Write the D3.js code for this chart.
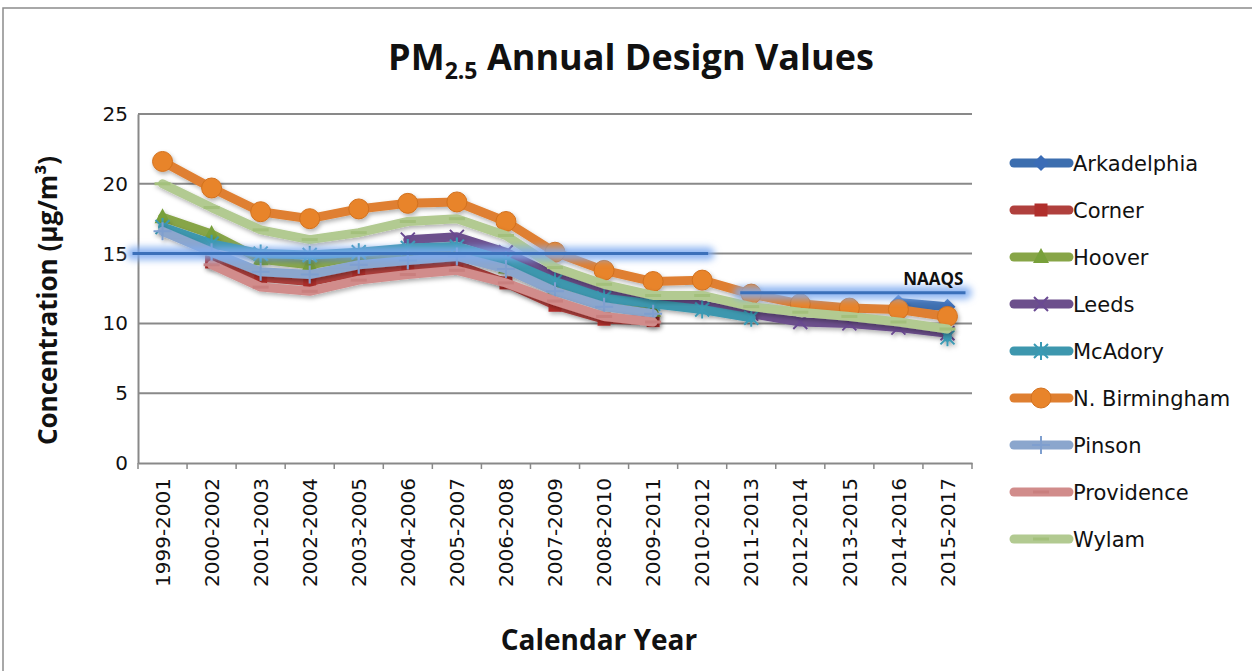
<!DOCTYPE html>
<html>
<head>
<meta charset="utf-8">
<script src="https://cdn.jsdelivr.net/npm/d3@7"></script>
<style>
  body { margin: 0; background: #fff; }
  svg { display: block; }
</style>
</head>
<body>
<svg id="chart"></svg>
<script>
// categories (3-year design value periods)
const years = ['1999-2001','2000-2002','2001-2003','2002-2004','2003-2005','2004-2006',
  '2005-2007','2006-2008','2007-2009','2008-2010','2009-2011','2010-2012',
  '2011-2013','2012-2014','2013-2015','2014-2016','2015-2017'];

const yTicks = [0, 5, 10, 15, 20, 25];

// series values (µg/m3), null = no data
const arkadelphia = [null,null,null,null,null,null,null,null,null,null,null,null,null,null,null,11.5,11.2];
const corner      = [null,14.4,13.3,13.0,13.7,14.0,14.2,12.9,11.3,10.3,10.2,null,null,null,null,null,null];
const hoover      = [17.6,16.4,14.6,14.2,14.8,15.0,15.1,14.0,12.5,11.5,10.9,null,null,null,null,null,null];
const leeds       = [null,null,null,null,null,16.0,16.2,15.1,13.4,12.3,11.7,11.3,10.7,10.1,10.0,9.7,9.3];
const mcadory     = [16.9,15.7,15.0,14.9,15.1,15.4,15.5,14.5,13.0,11.8,11.4,11.0,10.4,null,null,null,9.0];
const nBirmingham = [21.6,19.7,18.0,17.5,18.2,18.6,18.7,17.3,15.1,13.8,13.0,13.1,12.1,11.4,11.1,11.0,10.5];
const pinson      = [16.6,15.1,13.7,13.5,14.2,14.5,14.8,13.9,12.3,11.2,10.7,null,null,null,null,null,null];
const providence  = [null,14.2,12.6,12.3,13.1,13.5,13.8,12.9,11.6,10.5,10.1,null,null,null,null,null,null];
const wylam       = [20.0,18.3,16.7,16.0,16.5,17.3,17.5,16.3,14.0,12.8,12.0,12.0,11.2,10.8,10.5,10.1,9.6];

// NAAQS standard lines
const naaqsValues = [15, 12.2];
const naaqsFrom   = ['1999-2001', '2011-2013'];
const naaqsTo     = ['2010-2012', '2015-2017'];

const series = [
  { name: 'Arkadelphia',   values: arkadelphia, color: '#3c6eaf', mark: '#3a6cb6', shape: 'diamond' },
  { name: 'Corner',        values: corner,      color: '#b0403d', mark: '#b02f2c', shape: 'square' },
  { name: 'Hoover',        values: hoover,      color: '#87a547', mark: '#78a03a', shape: 'triangle' },
  { name: 'Leeds',         values: leeds,       color: '#6c4f8c', mark: '#6a4a92', shape: 'x' },
  { name: 'McAdory',       values: mcadory,     color: '#3d97ae', mark: '#3a9ab4', shape: 'star' },
  { name: 'N. Birmingham', values: nBirmingham, color: '#df7f30', mark: '#e8842a', shape: 'circle' },
  { name: 'Pinson',        values: pinson,      color: '#8ba6cd', mark: '#7f9fcf', shape: 'plus' },
  { name: 'Providence',    values: providence,  color: '#d18c8b', mark: '#c97f7e', shape: 'dash' },
  { name: 'Wylam',         values: wylam,       color: '#b2ca91', mark: '#a3c07b', shape: 'dash' }
];

const W = 1252, H = 671;
const svg = d3.select('#chart').attr('width', W).attr('height', H);

const defs = svg.append('defs');
const shadow = defs.append('filter').attr('id', 'shadow')
  .attr('x', '-10%').attr('y', '-10%').attr('width', '120%').attr('height', '130%');
shadow.append('feDropShadow').attr('dx', 1.5).attr('dy', 2.5)
  .attr('stdDeviation', 2).attr('flood-color', '#000').attr('flood-opacity', 0.3);
const glow = defs.append('filter').attr('id', 'glow').attr('filterUnits', 'userSpaceOnUse')
  .attr('x', 0).attr('y', 0).attr('width', W).attr('height', H);
glow.append('feGaussianBlur').attr('stdDeviation', 3.5);

// outer frame
svg.append('rect').attr('x', 3).attr('y', 8).attr('width', W + 10).attr('height', H + 10)
  .attr('fill', 'none').attr('stroke', '#8c8c8c').attr('stroke-width', 1.5);

const plot = { left: 138, right: 972, top: 114, bottom: 463 };

const x = d3.scaleBand().domain(years).range([plot.left, plot.right]);
const xc = d => x(d) + x.bandwidth() / 2;
const y = d3.scaleLinear().domain([0, 25]).range([plot.bottom, plot.top]);

// gridlines
svg.append('g').selectAll('line').data(yTicks.filter(t => t > 0)).join('line')
  .attr('x1', plot.left).attr('x2', plot.right)
  .attr('y1', d => y(d)).attr('y2', d => y(d))
  .attr('stroke', '#898989').attr('stroke-width', 2);

// y axis
const yAxis = svg.append('g').attr('transform', `translate(${plot.left},0)`)
  .call(d3.axisLeft(y).tickValues(yTicks).tickSize(0).tickPadding(10));
yAxis.select('.domain').attr('stroke', '#898989').attr('stroke-width', 2);
yAxis.selectAll('text').attr('font-family', 'DejaVu Sans').attr('font-size', 20).attr('fill', '#111');

// x axis
const xAxis = svg.append('g').attr('transform', `translate(0,${plot.bottom})`)
  .call(d3.axisBottom(x).tickSize(0));
xAxis.select('.domain').attr('stroke', '#898989').attr('stroke-width', 2);
xAxis.selectAll('text')
  .attr('font-family', 'DejaVu Sans').attr('font-size', 20).attr('fill', '#111')
  .attr('transform', 'rotate(-90)')
  .attr('text-anchor', 'end')
  .attr('x', -15).attr('y', 0).attr('dy', '0.36em');
// tick marks at category boundaries
svg.append('g').selectAll('line').data(years.concat(['end'])).join('line')
  .attr('x1', (d, i) => plot.left + i * x.bandwidth())
  .attr('x2', (d, i) => plot.left + i * x.bandwidth())
  .attr('y1', plot.bottom).attr('y2', plot.bottom + 6)
  .attr('stroke', '#898989').attr('stroke-width', 1.5);

// marker drawing
function drawMarker(g, shape, cx, cy, s) {
  if (shape === 'diamond') {
    g.append('path').attr('d', `M${cx},${cy - 8}L${cx + 8},${cy}L${cx},${cy + 8}L${cx - 8},${cy}Z`)
      .attr('fill', s.mark);
  } else if (shape === 'square') {
    g.append('rect').attr('x', cx - 6.5).attr('y', cy - 6.5).attr('width', 13).attr('height', 13)
      .attr('fill', s.mark);
  } else if (shape === 'triangle') {
    g.append('path').attr('d', `M${cx},${cy - 9}L${cx + 8},${cy + 6}L${cx - 8},${cy + 6}Z`)
      .attr('fill', s.mark);
  } else if (shape === 'circle') {
    g.append('circle').attr('cx', cx).attr('cy', cy).attr('r', 10)
      .attr('fill', s.mark).attr('stroke', '#d2711f').attr('stroke-width', 1);
  } else if (shape === 'x') {
    g.append('path').attr('d', `M${cx - 7},${cy - 7}L${cx + 7},${cy + 7}M${cx - 7},${cy + 7}L${cx + 7},${cy - 7}`)
      .attr('stroke', s.mark).attr('stroke-width', 2);
  } else if (shape === 'star') {
    g.append('path').attr('d', `M${cx - 7},${cy - 7}L${cx + 7},${cy + 7}M${cx - 7},${cy + 7}L${cx + 7},${cy - 7}M${cx},${cy - 9}L${cx},${cy + 9}`)
      .attr('stroke', s.mark).attr('stroke-width', 2);
  } else if (shape === 'plus') {
    g.append('path').attr('d', `M${cx},${cy - 9}L${cx},${cy + 9}M${cx - 9},${cy}L${cx + 9},${cy}`)
      .attr('stroke', s.mark).attr('stroke-width', 2);
  } else if (shape === 'dash') {
    g.append('path').attr('d', `M${cx - 8},${cy}L${cx + 8},${cy}`)
      .attr('stroke', s.mark).attr('stroke-width', 3);
  }
}

const line = d3.line()
  .defined(d => d.v !== null)
  .x(d => xc(d.cat))
  .y(d => y(d.v));

const seriesLayer = svg.append('g');
series.forEach(s => {
  const pts = s.values.map((v, i) => ({ cat: years[i], v: v }));
  const g = seriesLayer.append('g').attr('filter', 'url(#shadow)');
  g.append('path').datum(pts)
    .attr('d', line)
    .attr('fill', 'none')
    .attr('stroke', s.color)
    .attr('stroke-width', 9)
    .attr('stroke-linejoin', 'round')
    .attr('stroke-linecap', 'round');
  pts.filter(p => p.v !== null).forEach(p => drawMarker(g, s.shape, xc(p.cat), y(p.v), s));
});

// NAAQS lines
const naaqs = svg.append('g');
naaqsValues.forEach((v, i) => {
  const x1 = i === 0 ? xc(naaqsFrom[i]) - 30 : xc(naaqsFrom[i]) - 11;
  const x2 = i === 0 ? xc(naaqsTo[i]) + 6 : xc(naaqsTo[i]) + 18;
  naaqs.append('line').attr('x1', x1).attr('x2', x2).attr('y1', y(v)).attr('y2', y(v))
    .attr('stroke', '#7eaaf0').attr('stroke-width', 13).attr('stroke-opacity', 0.85)
    .attr('stroke-linecap', 'round').attr('filter', 'url(#glow)');
  naaqs.append('line').attr('x1', x1).attr('x2', x2).attr('y1', y(v)).attr('y2', y(v))
    .attr('stroke', '#3b70ba').attr('stroke-width', 3);
});
naaqs.append('text')
  .attr('x', xc(naaqsTo[1]) + 16).attr('y', y(naaqsValues[1]) - 8)
  .attr('text-anchor', 'end')
  .attr('font-family', 'Open Sans').attr('font-weight', 'bold').attr('font-size', 17)
  .attr('fill', '#111').text('NAAQS');

// legend
const legend = svg.append('g');
series.forEach((s, i) => {
  const ly = 163 + i * 47.0;
  const g = legend.append('g');
  g.append('line').attr('x1', 1014).attr('x2', 1069).attr('y1', ly).attr('y2', ly)
    .attr('stroke', s.color).attr('stroke-width', 9).attr('stroke-linecap', 'round');
  drawMarker(g, s.shape, 1041, ly, s);
  g.append('text').attr('x', 1073).attr('y', ly).attr('dy', '0.36em')
    .attr('font-family', 'DejaVu Sans').attr('font-size', 21).attr('fill', '#111')
    .text(s.name);
});

// titles
const title = svg.append('text').attr('x', 631).attr('y', 70).attr('text-anchor', 'middle')
  .attr('font-family', 'Open Sans').attr('font-weight', 'bold').attr('font-size', 36).attr('fill', '#111');
title.append('tspan').text('PM');
title.append('tspan').attr('font-size', 23).attr('dy', 9).text('2.5');
title.append('tspan').attr('dy', -9).text(' Annual Design Values');

svg.append('text').attr('transform', `translate(57,${(plot.top + plot.bottom) / 2 + 12}) rotate(-90)`)
  .attr('text-anchor', 'middle')
  .attr('font-family', 'Open Sans').attr('font-weight', 'bold').attr('font-size', 26).attr('fill', '#111')
  .text('Concentration (µg/m³)');

svg.append('text').attr('x', 599).attr('y', 650).attr('text-anchor', 'middle')
  .attr('font-family', 'Open Sans').attr('font-weight', 'bold').attr('font-size', 28).attr('fill', '#111')
  .text('Calendar Year');
</script>
</body>
</html>
